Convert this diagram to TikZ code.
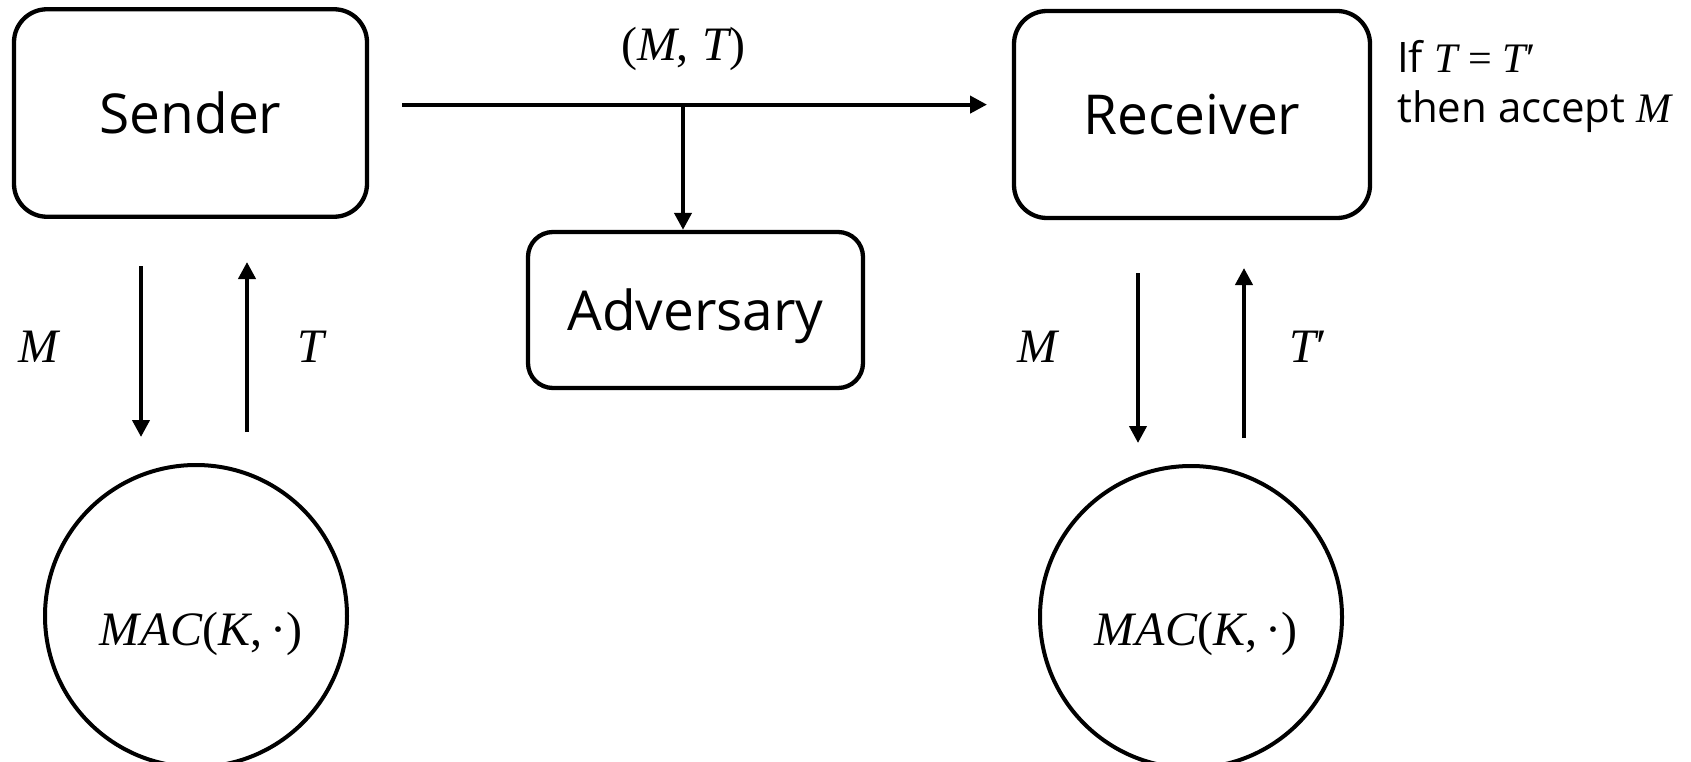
\documentclass[tikz,border=0pt]{standalone}
\usepackage{fontspec}
\setmainfont{Open Sans}
\newfontfamily\varfont{Liberation Serif}
\newcommand{\va}[1]{{\varfont\itshape #1}}
\newcommand{\vu}[1]{{\varfont #1}}
\usetikzlibrary{arrows.meta}
\begin{document}
\begin{tikzpicture}[x=1pt,y=-1pt,
  party/.style={draw, line width=4.3pt, rounded corners=33pt,
    font=\fontsize{55}{66}\selectfont, text depth=0pt, inner sep=0pt},
  macbox/.style={draw, circle, line width=4pt, minimum size=302pt, inner sep=0pt},
  flow/.style={line width=4pt, -{Triangle[length=17pt,width=17pt]}},
  varlbl/.style={font=\fontsize{48}{56}\selectfont, inner sep=0pt},
]
% canvas
\path[fill=white, use as bounding box] (0,0) rectangle (1691,762);
\clip (0,0) rectangle (1691,762);

% parties
\node[party, minimum width=353pt, minimum height=207.5pt] (sender) at (190.5,113) {Sender};
\node[party, minimum width=356pt, minimum height=207pt] (receiver) at (1192,114.5) {Receiver};
\node[party, minimum width=335pt, minimum height=156pt, rounded corners=25pt] (adv) at (695.5,310) {Adversary};

% MAC oracles
\node[macbox] (macS) at (196,616) {};
\node[macbox] (macR) at (1191,617) {};
\node[varlbl] (macSlbl) at (201,634) {\va{M\kern1pt A\kern1pt C}\vu{(}\va{K}\vu{,\,·)}};
\node[varlbl] (macRlbl) at (1196,634) {\va{M\kern1pt A\kern1pt C}\vu{(}\va{K}\vu{,\,·)}};

% channel
\coordinate (chanA) at (402,104.6);
\coordinate (chanB) at (987,104.6);
\coordinate (tap) at (683,104.6);
\draw[flow] (chanA) -- (chanB);
\draw[flow] (tap) -- (tap |- adv.north);
\node[varlbl] (lblMT) at (683,48.5) {\vu{(}\va{M}\vu{,\;}\va{T}\vu{)}};

% sender <-> MAC
\coordinate (sDownA) at (141,266);
\coordinate (sDownB) at (141,437);
\coordinate (sUpA) at (247,432);
\coordinate (sUpB) at (247,262);
\draw[flow] (sDownA) -- (sDownB);
\draw[flow] (sUpA) -- (sUpB);
\node[varlbl] (lblMs) at (38,347) {\va{M}};
\node[varlbl] (lblTs) at (311,347) {\va{T}};

% receiver <-> MAC
\coordinate (rDownA) at (1138,273);
\coordinate (rDownB) at (1138,443);
\coordinate (rUpA) at (1244,438);
\coordinate (rUpB) at (1244,268);
\draw[flow] (rDownA) -- (rDownB);
\draw[flow] (rUpA) -- (rUpB);
\node[varlbl] (lblMr) at (1037,347) {\va{M}};
\node[varlbl] (lblTr) at (1308,347) {\va{T}\vu{′}};

% verification rule (base anchor sits on the last line)
\node[anchor=base west, align=left, inner sep=0pt,
  font=\fontsize{42}{50}\selectfont] (rule) at (1397,123)
  {If \va{T} \vu{=} \va{T}\vu{′}\\then accept \va{M}};
\end{tikzpicture}
\end{document}
